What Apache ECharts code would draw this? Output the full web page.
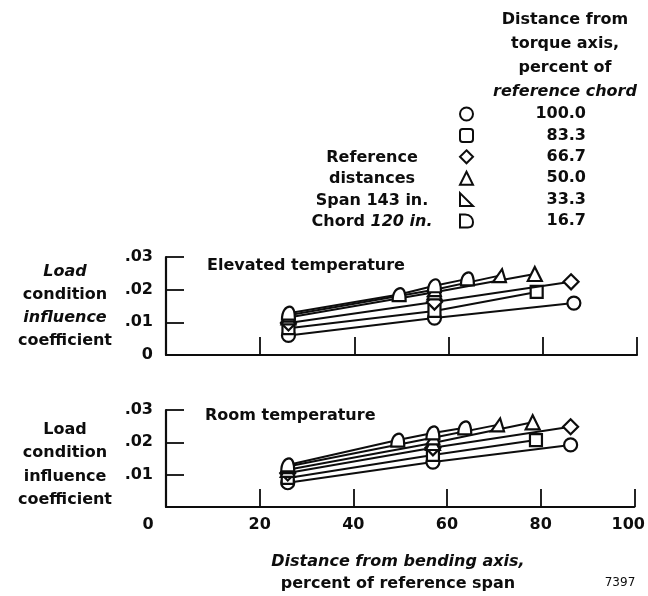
<!DOCTYPE html>
<html>
<head>
<meta charset="utf-8">
<script src="https://cdn.jsdelivr.net/npm/echarts@6/dist/echarts.min.js"></script>
<style>
  html, body { margin: 0; padding: 0; background: #fff; }
  #chart { width: 648px; height: 596px; }
</style>
</head>
<body>
<div id="chart"></div>
<script>
// Distance from torque axis (percent of reference chord) for each curve
const distances = ['100.0', '83.3', '66.7', '50.0', '33.3', '16.7'];

// Span station (percent of reference span), influence coefficient
const elevated100 = [[26, 0.0060], [57, 0.0113], [86.6, 0.0159]];
const elevated83 = [[26, 0.0082], [57, 0.0135], [78.7, 0.0193]];
const elevated67 = [[26, 0.0098], [57, 0.0162], [86.0, 0.0224]];
const elevated50 = [[26, 0.0115], [57, 0.0192], [78.3, 0.0248]];
const elevated33 = [[26, 0.0122], [57, 0.0200], [70.8, 0.0243]];
const elevated17 = [[26, 0.0128], [49.5, 0.0185], [57, 0.0212], [64.0, 0.0233]];

const room100 = [[26, 0.0075], [57, 0.0139], [86.4, 0.0192]];
const room83 = [[26, 0.0090], [57, 0.0161], [79.0, 0.0207]];
const room67 = [[26, 0.0105], [57, 0.0183], [86.4, 0.0248]];
const room50 = [[26, 0.0115], [57, 0.0198], [78.3, 0.0262]];
const room33 = [[26, 0.0125], [57, 0.0214], [70.8, 0.0254]];
const room17 = [[26, 0.0130], [49.5, 0.0207], [57, 0.0229], [63.8, 0.0245]];

const xTicks = [0, 20, 40, 60, 80, 100];
const yTicks = [0, 0.01, 0.02, 0.03];

const elevatedSets = [elevated100, elevated83, elevated67, elevated50, elevated33, elevated17];
const roomSets = [room100, room83, room67, room50, room33, room17];

// Marker shapes used on the curves
const plotSymbols = [
  'circle',
  'rect',
  'diamond',
  'triangle',
  'path://M0,10 L7,0 L10,10 Z',
  'path://M0,10 C0,3 3,0 6,0 C9,0 10,4 10,10 Z'
];
const plotSizes = [13, 12, 15, 14, 13, 13];

// Marker shapes shown in the key
const keySymbols = [
  'circle',
  'path://M2,0 L8,0 Q10,0 10,2 L10,8 Q10,10 8,10 L2,10 Q0,10 0,8 L0,2 Q0,0 2,0 Z',
  'diamond',
  'triangle',
  'path://M0,0 L0,10 L10,10 Z',
  'path://M0,0 L4,0 C8,0 10,3 10,6 C10,9 8,10 6,10 L0,10 Z'
];

const FONT = 'DejaVu Sans';
const INK = '#0d0d0d';

function makeSeries(sets, gridIndex) {
  return sets.map((data, i) => ({
    name: distances[i],
    type: 'line',
    xAxisIndex: gridIndex,
    yAxisIndex: gridIndex,
    data: data,
    symbol: plotSymbols[i],
    symbolSize: plotSizes[i],
    showAllSymbol: true,
    animation: false,
    lineStyle: { color: INK, width: 2 },
    itemStyle: { color: '#fff', borderColor: INK, borderWidth: 2.2 },
    emphasis: { disabled: true },
    z: 2 + i
  }));
}

function xAxisCfg(gridIndex, showLabels) {
  return {
    type: 'value',
    gridIndex: gridIndex,
    min: 0, max: 100, interval: 20,
    axisLine: { show: true, onZero: false, lineStyle: { color: INK, width: 2.2 } },
    axisTick: { show: true, inside: true, length: 18, lineStyle: { color: INK, width: 1.8 } },
    splitLine: { show: false },
    axisLabel: {
      show: showLabels,
      margin: 10,
      color: INK,
      fontFamily: FONT,
      fontWeight: 'bold',
      fontSize: 16,
      formatter: v => v === 0 ? '{z|0}' : (v === 100 ? '{h|100}' : String(v)),
      rich: {
        z: { fontFamily: FONT, fontWeight: 'bold', fontSize: 16, color: INK, padding: [0, 36, 0, 0] },
        h: { fontFamily: FONT, fontWeight: 'bold', fontSize: 16, color: INK, padding: [0, 12, 0, 0] }
      }
    }
  };
}

function yAxisCfg(gridIndex, showZero) {
  return {
    type: 'value',
    gridIndex: gridIndex,
    min: 0, max: 0.03, interval: 0.01,
    axisLine: { show: true, lineStyle: { color: INK, width: 2.2 } },
    axisTick: { show: true, inside: true, length: 18, lineStyle: { color: INK, width: 1.8 } },
    splitLine: { show: false },
    axisLabel: {
      margin: 13,
      color: INK,
      fontFamily: FONT,
      fontWeight: 'bold',
      fontSize: 16,
      formatter: v => v === 0 ? (showZero ? '0' : '') : '.0' + Math.round(v * 100)
    }
  };
}

const bold = { fontFamily: FONT, fontWeight: 'bold', fontSize: 16, color: INK };
const ital = { fontFamily: FONT, fontWeight: 'bold', fontStyle: 'italic', fontSize: 16, color: INK };

function richLines(lh) {
  return {
    b: Object.assign({ lineHeight: lh }, bold),
    i: Object.assign({ lineHeight: lh }, ital)
  };
}

const chart = echarts.init(document.getElementById('chart'), null, { renderer: 'canvas' });

chart.setOption({
  animation: false,
  backgroundColor: '#fff',
  grid: [
    { left: 166, right: 11, top: 257, bottom: 241 },
    { left: 166, right: 11, top: 410, bottom: 89 }
  ],
  xAxis: [xAxisCfg(0, false), xAxisCfg(1, true)],
  yAxis: [yAxisCfg(0, true), yAxisCfg(1, false)],
  legend: {
    orient: 'vertical',
    left: 454,
    top: 101,
    itemWidth: 13,
    itemHeight: 13,
    itemGap: 5.4,
    selectedMode: false,
    data: distances.map((d, i) => ({ name: d, icon: keySymbols[i] })),
    itemStyle: { color: '#fff', borderColor: INK, borderWidth: 2 },
    formatter: name => '{v|' + name + '}',
    textStyle: {
      rich: {
        v: { width: 108, align: 'right', lineHeight: 16, fontFamily: FONT, fontWeight: 'bold', fontSize: 16, color: INK }
      }
    }
  },
  title: [
    {
      text: 'Elevated temperature',
      left: 202, top: 253,
      textStyle: bold
    },
    {
      text: 'Room temperature',
      left: 200, top: 403,
      textStyle: bold
    },
    {
      text: '{b|Distance from}\n{b|torque axis,}\n{b|percent of}\n{i|reference chord}',
      left: 560, top: 3, textAlign: 'center',
      textStyle: { rich: richLines(24) }
    },
    {
      text: '{b|Reference}\n{b|distances}\n{b|Span 143 in.}\n{b|Chord }{i|120 in.}',
      left: 367, top: 142, textAlign: 'center',
      textStyle: { rich: richLines(21.4) }
    },
    {
      text: '{i|Load}\n{b|condition}\n{i|influence}\n{b|coefficient}',
      left: 60, top: 255, textAlign: 'center',
      textStyle: { rich: richLines(23) }
    },
    {
      text: '{b|Load}\n{b|condition}\n{b|influence}\n{b|coefficient}',
      left: 60, top: 413, textAlign: 'center',
      textStyle: { rich: richLines(23.5) }
    },
    {
      text: '{i|Distance from bending axis,}\n{b|percent of reference span}',
      left: 393, top: 546, textAlign: 'center',
      textStyle: { rich: richLines(22) }
    },
    {
      text: '7397',
      left: 615, top: 572, textAlign: 'center',
      textStyle: { fontFamily: FONT, fontWeight: 'normal', fontSize: 12, color: INK }
    }
  ],
  series: makeSeries(elevatedSets, 0).concat(makeSeries(roomSets, 1))
});
</script>
</body>
</html>
